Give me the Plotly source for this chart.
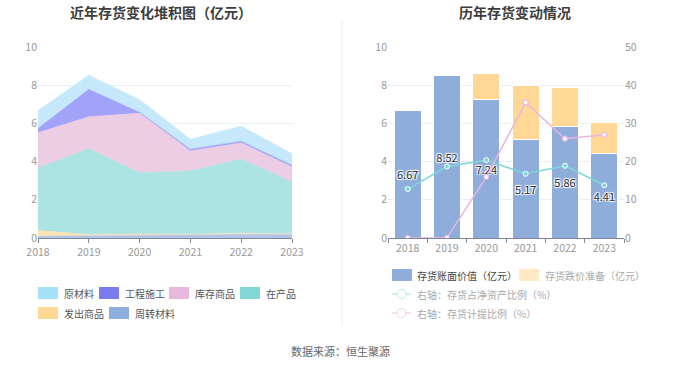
import plotly.graph_objects as go

W, H = 680, 367

years = [2018, 2019, 2020, 2021, 2022, 2023]
year_labels = ["2018", "2019", "2020", "2021", "2022", "2023"]

# Left chart: stacked inventory composition (亿元)
zhouzhuan = [0.09, 0.12, 0.14, 0.16, 0.19, 0.19]   # 周转材料
fachu = [0.30, 0.06, 0.07, 0.03, 0.06, 0.02]       # 发出商品
zaichan = [3.28, 4.50, 3.21, 3.32, 3.89, 2.72]     # 在产品
kucun = [1.84, 1.67, 3.11, 1.05, 0.84, 0.79]       # 库存商品
gongcheng = [0.23, 1.44, 0.05, 0.09, 0.09, 0.09]   # 工程施工
yuancailiao = [0.93, 0.73, 0.66, 0.52, 0.79, 0.60] # 原材料

# Right chart
book_value = [6.67, 8.52, 7.24, 5.17, 5.86, 4.41]        # 存货账面价值（亿元）
impairment = [0.0, 0.0, 1.38, 2.82, 2.04, 1.62]          # 存货跌价准备（亿元）
ratio_net_assets = [12.8, 18.7, 20.4, 16.8, 18.9, 13.8]  # 存货占净资产比例（%）
ratio_provision = [0.0, 0.0, 16.0, 35.5, 26.0, 27.0]     # 存货计提比例（%）

FONT = "Noto Sans CJK SC"

def px(x):
    return x / W

def py(y):
    return 1 - y / H

fig = go.Figure()

# ---- left stacked area ----
area_series = [
    ("周转材料", zhouzhuan, "#B3C4E8", "#8FAEDD"),
    ("发出商品", fachu, "#FDE3B5", "#FFD994"),
    ("在产品", zaichan, "#ACE3E3", "#82D6D6"),
    ("库存商品", kucun, "#EDCDE3", "#E8B8DA"),
    ("工程施工", gongcheng, "#A2A2F8", "#7B7BF0"),
    ("原材料", yuancailiao, "#C5E9FB", "#A6E1FA"),
]
for name, vals, fillc, linec in area_series:
    fig.add_trace(go.Scatter(
        x=years, y=vals, name=name, stackgroup="one", mode="lines",
        line=dict(width=0.6, color=fillc), fillcolor=fillc,
        xaxis="x", yaxis="y", showlegend=False, hoverinfo="x+y+name",
    ))

# ---- right bars ----
fig.add_trace(go.Bar(
    x=year_labels, y=book_value, name="存货账面价值（亿元）",
    marker=dict(color="#8EADDB", line=dict(color="white", width=1)),
    width=0.69, xaxis="x2", yaxis="y2", showlegend=False,
    text=[f"{v:.2f}" for v in book_value], textposition="inside",
    insidetextanchor="middle", textangle=0, constraintext="none",
    textfont=dict(color="#333333", size=11, family=FONT,
                  shadow="1px 1px 1px white, -1px -1px 1px white, 1px -1px 1px white, -1px 1px 1px white"),
))
fig.add_trace(go.Bar(
    x=year_labels, y=impairment, name="存货跌价准备（亿元）",
    marker=dict(color="#FFD895", line=dict(color="white", width=1)),
    width=0.69, xaxis="x2", yaxis="y2", showlegend=False,
))
fig.add_trace(go.Scatter(
    x=year_labels, y=ratio_net_assets, name="右轴：存货占净资产比例（%）",
    mode="lines+markers", line=dict(color="#7CD8D6", width=1.5),
    marker=dict(size=5, color="#7CD8D6", line=dict(color="white", width=1)),
    xaxis="x2", yaxis="y3", showlegend=False,
))
fig.add_trace(go.Scatter(
    x=year_labels, y=ratio_provision, name="右轴：存货计提比例（%）",
    mode="lines+markers", line=dict(color="#E8B4E0", width=1.5),
    marker=dict(size=5, color="white", line=dict(color="#E8B4E0", width=1.2)),
    xaxis="x2", yaxis="y3", showlegend=False,
))

ydom = [py(238), py(47)]
tickfont = dict(family=FONT, size=10.5, color="#999999")
grid = "#E9EDF5"

fig.update_layout(
    width=W, height=H, margin=dict(l=0, r=0, t=0, b=0, autoexpand=False),
    paper_bgcolor="white", plot_bgcolor="white",
    barmode="stack", showlegend=False,
    font=dict(family=FONT),
    xaxis=dict(domain=[px(38), px(292)], range=[2018, 2023], tickvals=years,
               ticktext=year_labels, showgrid=False, showline=True,
               linecolor="#7F8694", linewidth=1, ticks="outside", ticklen=4,
               tickcolor="#7F8694", tickfont=tickfont, zeroline=False,
               automargin=False),
    yaxis=dict(domain=ydom, range=[0, 10], tickvals=[0, 2, 4, 6, 8, 10],
               showgrid=True, gridcolor=grid, zeroline=False, showline=False,
               tickfont=tickfont, ticks="", anchor="x", automargin=False),
    xaxis2=dict(domain=[px(388), px(624)], range=[-0.5, 5.5], type="category",
                showgrid=False, showline=True, linecolor="#7F8694", linewidth=1,
                ticks="outside", tickson="boundaries", ticklen=4, tickcolor="#7F8694",
                tickfont=tickfont, anchor="y2", automargin=False),
    yaxis2=dict(domain=ydom, range=[0, 10], tickvals=[0, 2, 4, 6, 8, 10],
                showgrid=True, gridcolor=grid, zeroline=False, showline=False,
                tickfont=tickfont, anchor="x2", automargin=False),
    yaxis3=dict(range=[0, 50], tickvals=[0, 10, 20, 30, 40, 50], overlaying="y2",
                side="right", anchor="x2", showgrid=False, zeroline=False,
                showline=False, tickfont=tickfont, automargin=False),
)

shapes = []
annotations = []

# divider
shapes.append(dict(type="line", xref="paper", yref="paper", x0=px(342), x1=px(342),
                   y0=py(20), y1=py(325), line=dict(color="#EEEEEE", width=1)))

# titles
annotations.append(dict(text="<b>近年存货变化堆积图（亿元）</b>", x=px(161), y=py(12),
                        xref="paper", yref="paper", showarrow=False,
                        xanchor="center", yanchor="middle",
                        font=dict(family=FONT, size=14, color="#3D3D3D")))
annotations.append(dict(text="<b>历年存货变动情况</b>", x=px(515), y=py(12),
                        xref="paper", yref="paper", showarrow=False,
                        xanchor="center", yanchor="middle",
                        font=dict(family=FONT, size=14, color="#3D3D3D")))
annotations.append(dict(text="数据来源：恒生聚源", x=px(340), y=py(351),
                        xref="paper", yref="paper", showarrow=False,
                        xanchor="center", yanchor="middle",
                        font=dict(family=FONT, size=11, color="#666666")))

def swatch(x0, yc, color):
    shapes.append(dict(type="rect", xref="paper", yref="paper",
                       x0=px(x0), x1=px(x0 + 20), y0=py(yc + 6), y1=py(yc - 6),
                       fillcolor=color, line=dict(width=0)))

def label(x0, yc, text, color="#555555"):
    annotations.append(dict(text=text, x=px(x0), y=py(yc), xref="paper", yref="paper",
                            xanchor="left", yanchor="middle", showarrow=False,
                            font=dict(family=FONT, size=10, color=color)))

# left legend
left_legend = [
    ("原材料", "#A6E1FA", 38, 293), ("工程施工", "#7B7BF0", 99, 293),
    ("库存商品", "#E8B8DA", 169, 293), ("在产品", "#82D6D6", 240, 293),
    ("发出商品", "#FFD994", 38, 313), ("周转材料", "#8FAEDD", 109, 313),
]
for name, col, x0, yc in left_legend:
    swatch(x0, yc, col)
    label(x0 + 24, yc, name)

# right legend
swatch(392, 275, "#8EADDB")
label(415, 275, "存货账面价值（亿元）", "#444444")
swatch(519, 275, "#FFE8C4")
label(543, 275, "存货跌价准备（亿元）", "#AAAAAA")

for yc, col, name in [(294, "#BDEDEC", "右轴：存货占净资产比例（%）"),
                      (313, "#F3D6EF", "右轴：存货计提比例（%）")]:
    shapes.append(dict(type="line", xref="paper", yref="paper", x0=px(392), x1=px(411),
                       y0=py(yc), y1=py(yc), line=dict(color=col, width=1.5)))
    shapes.append(dict(type="circle", xref="paper", yref="paper", x0=px(397), x1=px(406),
                       y0=py(yc + 4.5), y1=py(yc - 4.5), fillcolor="white",
                       line=dict(color=col, width=1.2)))
    label(415, yc, name, "#AAAAAA")

fig.update_layout(shapes=shapes, annotations=annotations)

fig.write_html(
    "out.html",
    config={"displayModeBar": False},
    post_script="document.body.style.margin='0';document.body.style.overflow='hidden';",
)
